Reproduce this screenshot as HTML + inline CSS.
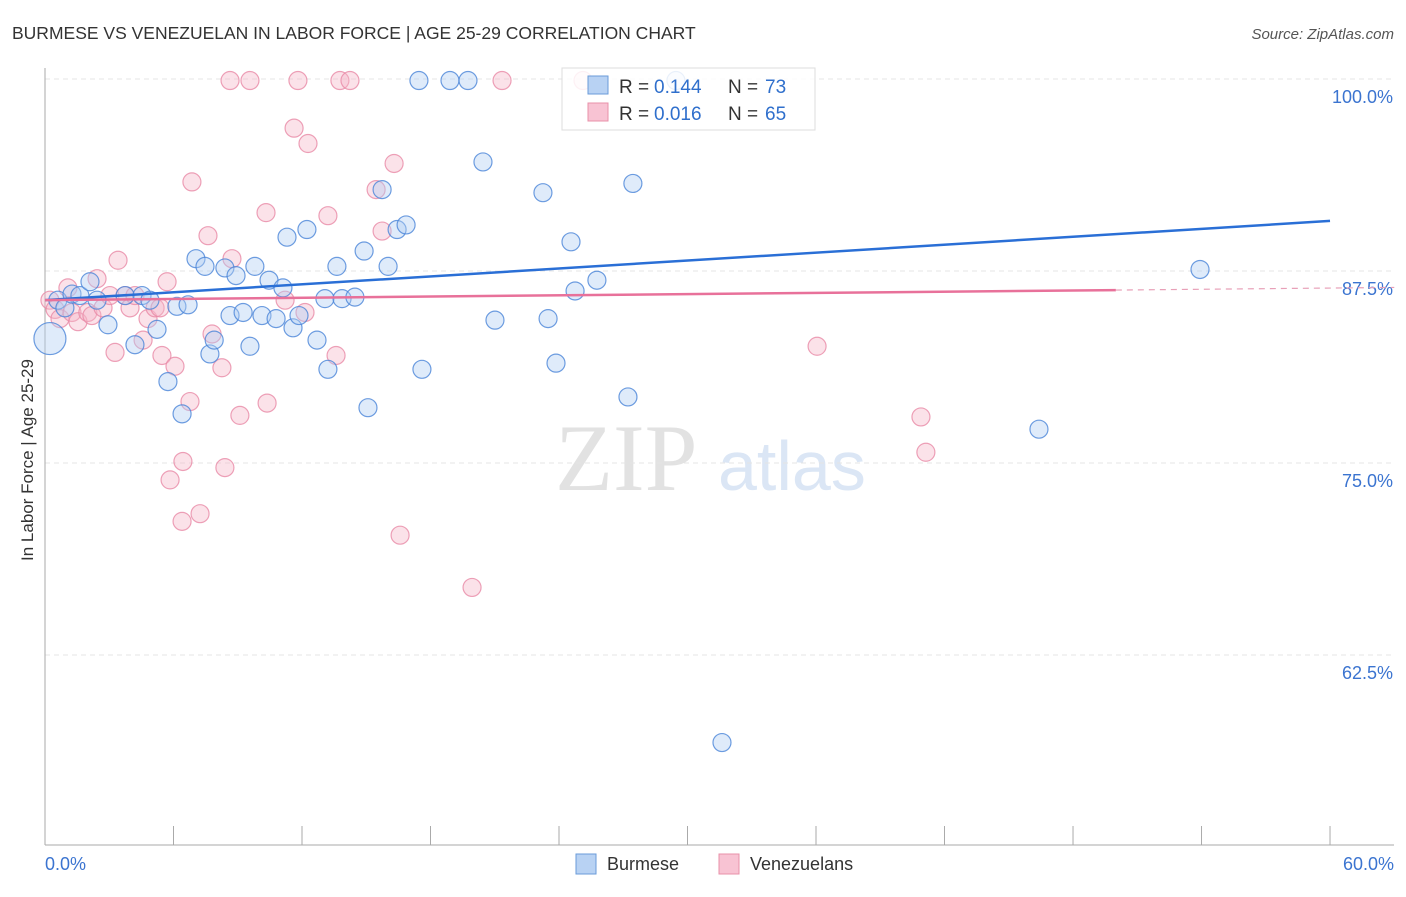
<!DOCTYPE html>
<html><head><meta charset="utf-8"><style>
body{margin:0;background:#fff;font-family:"Liberation Sans",sans-serif}
svg text{font-family:"Liberation Sans",sans-serif}
</style></head><body>
<svg id="c" width="1406" height="892">
<text x="12" y="39" font-size="17.5" fill="#333">BURMESE VS VENEZUELAN IN LABOR FORCE | AGE 25-29 CORRELATION CHART</text>
<text x="1394" y="39" font-size="15" fill="#555" font-style="italic" text-anchor="end">Source: ZipAtlas.com</text>
<text x="33" y="460" font-size="17" fill="#333" text-anchor="middle" transform="rotate(-90 33 460)">In Labor Force | Age 25-29</text>
<text x="555" y="490" font-size="95" fill="#e2e2e2" style="font-family:'Liberation Serif',serif">ZIP</text>
<text x="718" y="490" font-size="70" fill="#dbe6f5">atlas</text>
<g id="grid"></g><g id="axes"></g><g id="pts"></g><g id="lines"></g>
<g>
<rect x="562" y="68" width="253" height="62" fill="#fff" fill-opacity="0.85" stroke="#ddd"/>
<rect x="588" y="76" width="20" height="18" fill="#b8d2f3" stroke="#6a9bd8"/>
<rect x="588" y="103" width="20" height="18" fill="#f8c3d3" stroke="#e890aa"/>
<text y="93" font-size="19" fill="#333"><tspan x="619">R =</tspan><tspan x="654" fill="#2f6fcc">0.144</tspan><tspan x="728">N =</tspan><tspan x="765" fill="#2f6fcc">73</tspan></text>
<text y="120" font-size="19" fill="#333"><tspan x="619">R =</tspan><tspan x="654" fill="#2f6fcc">0.016</tspan><tspan x="728">N =</tspan><tspan x="765" fill="#2f6fcc">65</tspan></text>
</g>
<g>
<rect x="576" y="854" width="20" height="20" fill="#b8d2f3" stroke="#6a9bd8"/>
<text x="607" y="870" font-size="18" fill="#333">Burmese</text>
<rect x="719" y="854" width="20" height="20" fill="#f8c3d3" stroke="#e890aa"/>
<text x="750" y="870" font-size="18" fill="#333">Venezuelans</text>
</g>
</svg>
<script>
const yTicks=[100,87.5,75,62.5];
const yTickLabels=["100.0%","87.5%","75.0%","62.5%"];
const xLabels=["0.0%","60.0%"];
const burX=[0.23,0.6,0.93,1.26,1.63,2.1,2.43,2.94,3.74,4.2,4.53,4.9,5.23,5.74,6.16,6.4,6.68,7.05,7.47,7.7,7.9,8.4,8.64,8.92,9.25,9.57,9.8,10.13,10.46,10.79,11.11,11.3,11.58,11.86,12.23,12.7,13.07,13.21,13.63,13.87,14.47,14.9,15.08,15.74,16.02,16.44,16.86,17.46,17.6,18.91,19.75,20.45,21.01,23.25,23.49,23.86,24.56,24.75,25.77,27.22,27.45,29.46,31.61,46.41,53.93];
const burY=[83.1,85.6,85.1,86.0,85.9,86.8,85.6,84.0,85.9,82.7,85.9,85.6,83.7,80.3,85.2,78.2,85.3,88.3,87.8,82.1,83.0,87.7,84.6,87.2,84.8,82.6,87.8,84.6,86.9,84.4,86.4,89.7,83.8,84.6,90.2,83.0,85.7,81.1,87.8,85.7,85.8,88.8,78.6,92.8,87.8,90.2,90.5,99.9,81.1,99.9,99.9,94.6,84.3,92.6,84.4,81.5,89.4,86.2,86.9,79.3,93.2,99.9,56.8,77.2,87.6];
const venX=[0.23,0.47,0.7,1.07,1.26,1.54,2.0,2.19,2.43,2.71,3.03,3.27,3.41,3.74,3.97,4.2,4.58,4.81,5.14,5.37,5.46,5.7,5.84,6.07,6.4,6.44,6.77,6.86,7.24,7.61,7.8,8.26,8.4,8.64,8.73,9.1,9.57,10.32,10.37,11.21,11.63,11.81,12.14,12.28,13.21,13.59,13.77,14.24,15.46,15.74,16.3,16.58,19.94,21.34,25.12,36.05,40.9,41.13];
const venY=[85.6,85.0,84.4,86.4,84.8,84.2,84.8,84.6,87.0,85.1,85.9,82.2,88.2,85.9,85.1,85.9,83.0,84.4,85.1,85.1,82.0,86.8,73.9,81.3,71.2,75.1,79.0,93.3,71.7,89.8,83.4,81.2,74.7,99.9,88.3,78.1,99.9,91.3,78.9,85.6,96.8,99.9,84.8,95.8,91.1,82.0,99.9,99.9,92.8,90.1,94.5,70.3,66.9,99.9,99.9,82.6,78.0,75.7];
const burLine=[85.6,90.76];
const venLine=[85.6,86.39];
const X=v=>45+v*21.417, Y=v=>79+(100-v)*15.36;
const NS="http://www.w3.org/2000/svg";
function mk(tag,par,at){const e=document.createElementNS(NS,tag);for(const k in at)e.setAttribute(k,at[k]);document.getElementById(par).appendChild(e);return e;}
yTicks.forEach((t,i)=>{
 const g=mk('line','grid',{x1:45,x2:1394,y1:Y(t),y2:Y(t),stroke:'#e4e4e4','stroke-dasharray':'5,4'});
 
 
 const l=mk('text','grid',{x:1393,y:Y(t)+24,'font-size':18,fill:'#3b74d0','text-anchor':'end'});
 l.textContent=yTickLabels[i];
 
 
});
const ax=mk('line','axes',{x1:45,x2:45,y1:68,y2:845,stroke:'#aaa'});


const bx=mk('line','axes',{x1:45,x2:1394,y1:845,y2:845,stroke:'#aaa'});


for(let i=0;i<=10;i++){const t=mk('line','axes',{x1:X(i*6),x2:X(i*6),y1:826,y2:845,stroke:'#aaa'});
 
 }
[[0,'start'],[60,'end']].forEach((p,i)=>{const t=mk('text','axes',{x:i?1394:45,y:870,'font-size':18,fill:'#3b74d0','text-anchor':p[1]});t.textContent=xLabels[i];
 
 });
function pts(xs,ys,fill,stroke,name){xs.forEach((x,i)=>{const c=mk('circle','pts',{cx:X(x),cy:Y(ys[i]),r:(name=='burmese-point'&&i==0)?16:9,fill:fill,'fill-opacity':0.4,stroke:stroke,'stroke-opacity':0.8,'stroke-width':1.2});
 
 });}
pts(venX,venY,'#f6b6c9','#e88aa6','venezuelan-point');
pts(burX,burY,'#b0cdf2','#4a85d8','burmese-point');
const bl=mk('line','lines',{x1:X(0),y1:Y(burLine[0]),x2:X(60),y2:Y(burLine[1]),stroke:'#2a6fd6','stroke-width':2.5});


const vy=v=>venLine[0]+(venLine[1]-venLine[0])*v/60;
const vl=mk('line','lines',{x1:X(0),y1:Y(vy(0)),x2:X(50),y2:Y(vy(50)),stroke:'#e8719a','stroke-width':2.5});


const vd=mk('line','lines',{x1:X(50),y1:Y(vy(50)),x2:X(63),y2:Y(vy(63)),stroke:'#e8a0b8','stroke-width':1.2,'stroke-dasharray':'6,5'});


</script>
</body></html>
